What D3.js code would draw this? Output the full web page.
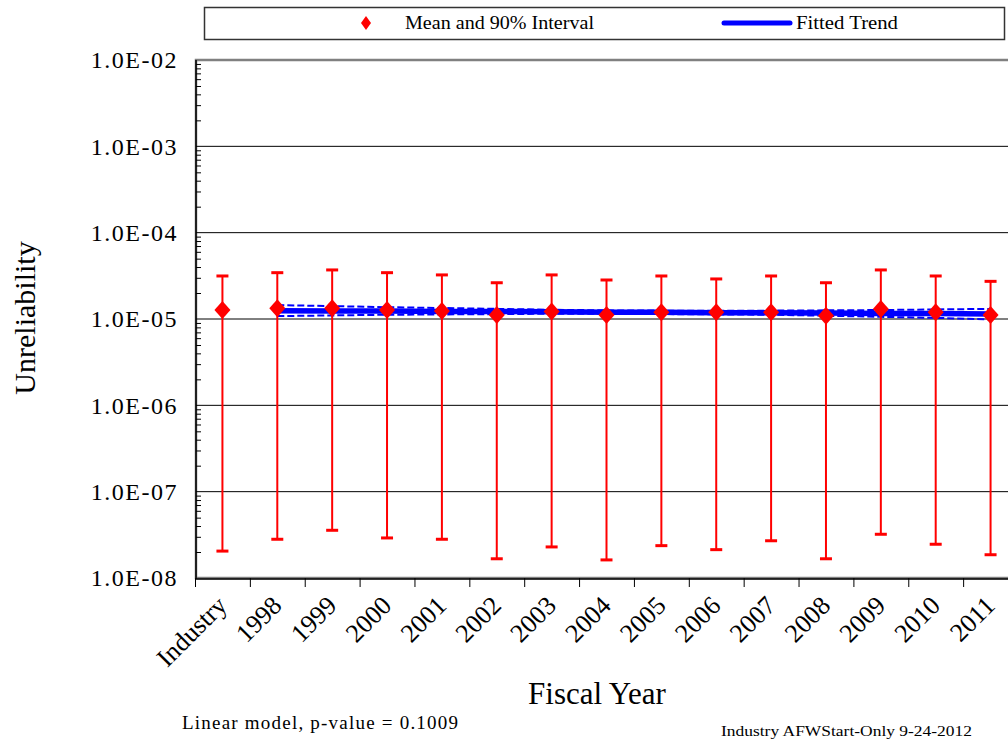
<!DOCTYPE html>
<html>
<head>
<meta charset="utf-8">
<script src="https://cdn.jsdelivr.net/npm/d3@7"></script>
<style>
  body { margin: 0; background: #fff; }
  svg { display: block; font-family: "Liberation Serif", "Times New Roman", serif; }
</style>
</head>
<body>
<svg id="chart" width="1008" height="742"></svg>
<script>
// categories on the x axis
const categories = ["Industry", "1998", "1999", "2000", "2001", "2002", "2003", "2004",
  "2005", "2006", "2007", "2008", "2009", "2010", "2011"];

// mean and 90% interval per category
const meanValues = [1.27e-5, 1.33e-5, 1.33e-5, 1.27e-5, 1.24e-5, 1.11e-5, 1.22e-5, 1.11e-5,
  1.20e-5, 1.20e-5, 1.20e-5, 1.09e-5, 1.31e-5, 1.20e-5, 1.11e-5];
const upperValues = [3.15e-5, 3.44e-5, 3.70e-5, 3.44e-5, 3.24e-5, 2.63e-5, 3.24e-5, 2.83e-5,
  3.15e-5, 2.91e-5, 3.15e-5, 2.63e-5, 3.70e-5, 3.15e-5, 2.73e-5];
const lowerValues = [2.05e-8, 2.81e-8, 3.57e-8, 2.91e-8, 2.81e-8, 1.67e-8, 2.29e-8, 1.62e-8,
  2.37e-8, 2.13e-8, 2.70e-8, 1.67e-8, 3.21e-8, 2.46e-8, 1.86e-8];

// fitted trend (years only) with its dashed bounds
const trendYears = ["1998", "1999", "2000", "2001", "2002", "2003", "2004",
  "2005", "2006", "2007", "2008", "2009", "2010", "2011"];
const trendFit = [1.25e-5, 1.24e-5, 1.235e-5, 1.225e-5, 1.22e-5, 1.21e-5, 1.20e-5,
  1.195e-5, 1.185e-5, 1.18e-5, 1.17e-5, 1.16e-5, 1.155e-5, 1.145e-5];
const trendUpper = [1.45e-5, 1.41e-5, 1.37e-5, 1.34e-5, 1.31e-5, 1.28e-5, 1.26e-5,
  1.25e-5, 1.25e-5, 1.25e-5, 1.26e-5, 1.27e-5, 1.29e-5, 1.31e-5];
const trendLower = [1.08e-5, 1.10e-5, 1.12e-5, 1.13e-5, 1.14e-5, 1.15e-5, 1.15e-5,
  1.14e-5, 1.13e-5, 1.12e-5, 1.09e-5, 1.06e-5, 1.03e-5, 0.99e-5];

const majorTicks = [1e-8, 1e-7, 1e-6, 1e-5, 1e-4, 1e-3, 1e-2];

const svg = d3.select("#chart");
const plotLeft = 196, plotRight = 1018, plotTop = 60, plotBottom = 578;

const x = d3.scaleBand().domain(categories).range([195, 1018]).padding(0);
const y = d3.scaleLog().domain([1e-8, 1e-2]).range([plotBottom, plotTop]);
const cx = d => x(d) + x.bandwidth() / 2;

// plot area border (gray)
svg.append("rect")
  .attr("x", plotLeft).attr("y", plotTop)
  .attr("width", plotRight - plotLeft).attr("height", plotBottom - plotTop)
  .attr("fill", "none").attr("stroke", "#808080").attr("stroke-width", 2.5);

// gridlines
svg.append("g")
  .selectAll("line")
  .data(majorTicks.slice(1, -1))
  .join("line")
  .attr("x1", plotLeft).attr("x2", plotRight)
  .attr("y1", d => y(d)).attr("y2", d => y(d))
  .attr("stroke", "#000").attr("stroke-width", 1);

// minor ticks inside the left axis
const minorTicks = [];
majorTicks.slice(0, -1).forEach(m => { for (let k = 2; k <= 9; k++) minorTicks.push(m * k); });
svg.append("g")
  .attr("transform", `translate(${plotLeft},0)`)
  .call(d3.axisRight(y).tickValues(minorTicks).tickSize(5).tickFormat(""))
  .call(g => g.select(".domain").remove())
  .selectAll("line").attr("stroke", "#000");

// y axis labels
const fmt = d => "1.0E-" + String(Math.round(-Math.log10(d))).padStart(2, "0");
const yAxis = svg.append("g")
  .attr("transform", `translate(${plotLeft},0)`)
  .call(d3.axisLeft(y).tickValues(majorTicks).tickFormat(fmt).tickSize(0).tickPadding(18));
yAxis.select(".domain").remove();
yAxis.selectAll("text")
  .attr("font-family", "Liberation Serif")
  .attr("font-size", 24)
  .attr("letter-spacing", 1.5)
  .attr("fill", "#000");

// x axis ticks at band edges
const edge = d3.scaleLinear().domain([0, categories.length]).range(x.range());
svg.append("g")
  .attr("transform", `translate(0,${plotBottom})`)
  .call(d3.axisBottom(edge).tickValues(d3.range(0, categories.length)).tickSize(9).tickFormat(""))
  .call(g => g.select(".domain").remove())
  .selectAll("line").attr("stroke", "#000").attr("stroke-width", 1);

// axis lines
svg.append("line").attr("x1", plotLeft).attr("x2", plotLeft).attr("y1", plotTop).attr("y2", plotBottom + 1)
  .attr("stroke", "#000").attr("stroke-width", 1.5);
svg.append("line").attr("x1", plotLeft).attr("x2", plotRight).attr("y1", plotBottom + 1).attr("y2", plotBottom + 1)
  .attr("stroke", "#000").attr("stroke-width", 1.5);

// x labels, rotated
svg.append("g")
  .selectAll("text")
  .data(categories)
  .join("text")
  .attr("transform", d => `translate(${cx(d) + 6},${plotBottom + 29}) rotate(-45)`)
  .attr("text-anchor", "end")
  .attr("font-size", 26)
  .text(d => d);

// fitted trend bounds (dashed) and fit (solid)
const trendLine = vals => d3.line()
  .x((d, i) => cx(trendYears[i]))
  .y((d, i) => y(vals[i]))(vals);

svg.append("path").attr("d", trendLine(trendUpper))
  .attr("fill", "none").attr("stroke", "#0000ff").attr("stroke-width", 2).attr("stroke-dasharray", "7,3");
svg.append("path").attr("d", trendLine(trendLower))
  .attr("fill", "none").attr("stroke", "#0000ff").attr("stroke-width", 2).attr("stroke-dasharray", "7,3");
svg.append("path").attr("d", trendLine(trendFit))
  .attr("fill", "none").attr("stroke", "#0000ff").attr("stroke-width", 5.5);

// error bars
const bars = svg.append("g").attr("stroke", "#ff0000");
bars.selectAll("line.v")
  .data(categories)
  .join("line")
  .attr("class", "v")
  .attr("x1", d => cx(d)).attr("x2", d => cx(d))
  .attr("y1", (d, i) => y(upperValues[i])).attr("y2", (d, i) => y(lowerValues[i]))
  .attr("stroke-width", 2);
bars.selectAll("line.top")
  .data(categories)
  .join("line")
  .attr("class", "top")
  .attr("x1", d => cx(d) - 6).attr("x2", d => cx(d) + 6)
  .attr("y1", (d, i) => y(upperValues[i])).attr("y2", (d, i) => y(upperValues[i]))
  .attr("stroke-width", 3);
bars.selectAll("line.bot")
  .data(categories)
  .join("line")
  .attr("class", "bot")
  .attr("x1", d => cx(d) - 6).attr("x2", d => cx(d) + 6)
  .attr("y1", (d, i) => y(lowerValues[i])).attr("y2", (d, i) => y(lowerValues[i]))
  .attr("stroke-width", 3);

// mean diamonds
const diamond = (px, py, w, h) => `M${px},${py - h} L${px + w},${py} L${px},${py + h} L${px - w},${py} Z`;
svg.append("g")
  .selectAll("path")
  .data(categories)
  .join("path")
  .attr("d", (d, i) => diamond(cx(d), y(meanValues[i]), 8, 9))
  .attr("fill", "#ff0000");

// legend
const legend = svg.append("g");
legend.append("rect").attr("x", 204.5).attr("y", 7.5).attr("width", 800).attr("height", 32)
  .attr("fill", "#fff").attr("stroke", "#333").attr("stroke-width", 1.5);
legend.append("path").attr("d", diamond(366, 23, 5, 7)).attr("fill", "#ff0000");
legend.append("text").attr("x", 405).attr("y", 29).attr("font-size", 19)
  .attr("textLength", 189).attr("lengthAdjust", "spacingAndGlyphs")
  .text("Mean and 90% Interval");
legend.append("line").attr("x1", 724).attr("x2", 790).attr("y1", 23).attr("y2", 23)
  .attr("stroke", "#0000ff").attr("stroke-width", 5).attr("stroke-linecap", "round");
legend.append("text").attr("x", 796).attr("y", 29).attr("font-size", 19)
  .attr("textLength", 102).attr("lengthAdjust", "spacingAndGlyphs")
  .text("Fitted Trend");

// axis titles and notes
svg.append("text")
  .attr("transform", "translate(35,318) rotate(-90)")
  .attr("text-anchor", "middle").attr("font-size", 30)
  .text("Unreliability");
svg.append("text")
  .attr("x", 597).attr("y", 704)
  .attr("text-anchor", "middle").attr("font-size", 31)
  .text("Fiscal Year");
svg.append("text")
  .attr("x", 182).attr("y", 729).attr("font-size", 19)
  .attr("textLength", 276).attr("lengthAdjust", "spacing")
  .text("Linear model, p-value = 0.1009");
svg.append("text")
  .attr("x", 721).attr("y", 736).attr("font-size", 15)
  .attr("textLength", 251).attr("lengthAdjust", "spacingAndGlyphs")
  .text("Industry AFWStart-Only 9-24-2012");
</script>
</body>
</html>
